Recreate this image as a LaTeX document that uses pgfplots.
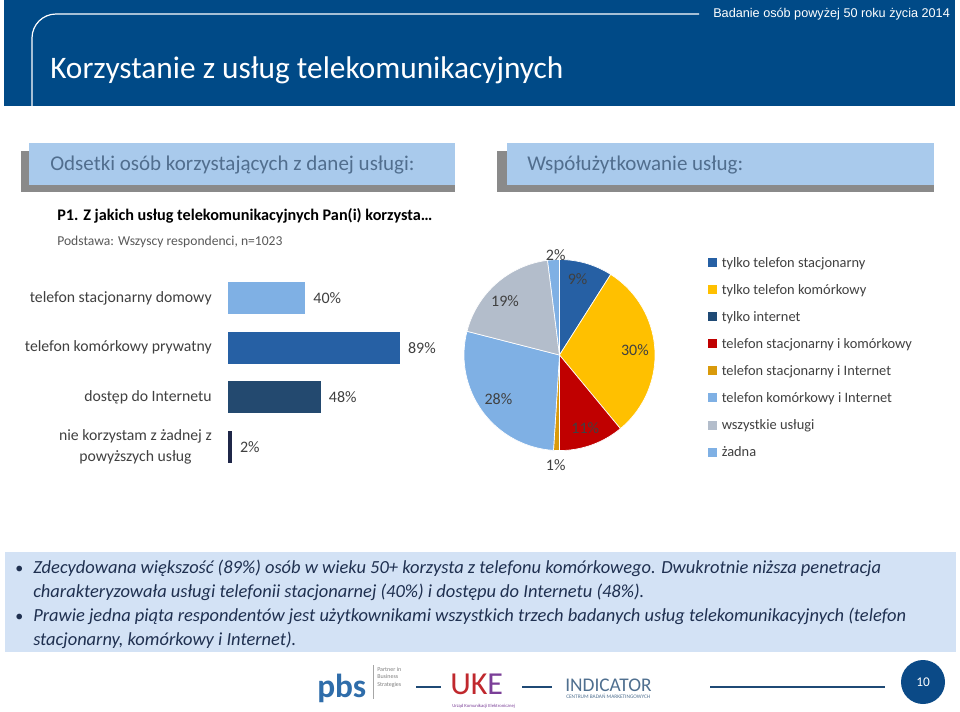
\documentclass[border=0pt]{standalone}
\usepackage{fontspec}
\setmainfont{Carlito}
\newfontfamily\arialfont{Liberation Sans}
\usepackage{pgfplots}
\pgfplotsset{compat=1.18}

\definecolor{hdr}{HTML}{004A87}
\definecolor{secbox}{HTML}{A9CAEC}
\definecolor{secshadow}{HTML}{8A8A8A}
\definecolor{sectext}{HTML}{516E8E}
\definecolor{lblue}{HTML}{7FB0E4}
\definecolor{mblue}{HTML}{2660A4}
\definecolor{dblue}{HTML}{23496F}
\definecolor{navy}{HTML}{1F2748}
\definecolor{inetblue}{HTML}{1F4A75}
\definecolor{yel}{HTML}{FFC000}
\definecolor{red1}{HTML}{C00000}
\definecolor{orng}{HTML}{D99A0B}
\definecolor{grayb}{HTML}{B3BDCB}
\definecolor{txtgray}{HTML}{404040}
\definecolor{subgray}{HTML}{595959}
\definecolor{notebg}{HTML}{D3E2F5}
\definecolor{notetext}{HTML}{1F3050}
\definecolor{pbsblue}{HTML}{2F6DAA}
\definecolor{ukered}{HTML}{C0282D}
\definecolor{ukepurple}{HTML}{7B3F98}
\definecolor{indgray}{HTML}{4F6F8F}
\definecolor{circ}{HTML}{0B4A87}

\newcommand{\slice}[3]{%
  \pgfmathsetmacro{\aS}{90-3.6*#2}%
  \pgfmathsetmacro{\aE}{90-3.6*(#2+#3)}%
  \edef\doslice{\noexpand\addplot[fill=#1, draw=white, line width=0.5pt, domain=\aE:\aS, samples=60, variable=\noexpand\t, forget plot] ({cos(\noexpand\t)},{sin(\noexpand\t)}) -- (axis cs:0,0) -- cycle;}%
  \doslice
}

\begin{document}
\begin{tikzpicture}[x=0.75pt,y=0.75pt]
\path[use as bounding box, fill=white] (0,0) rectangle (960,-711);

% header
\fill[hdr] (4,0) rectangle (955,-106);
\draw[white, line width=0.9pt] (32,-106) -- (32,-38) arc[start angle=180, end angle=90, radius=24] -- (699,-14);
\node[anchor=west, text=white, inner sep=0pt, font=\arialfont\fontsize{9.5}{11}\selectfont] at (713,-14) {Badanie osób powyżej 50 roku życia 2014};
\node[anchor=base west, text=white, inner sep=0pt, font=\fontsize{23.5}{28}\selectfont] at (50,-78) {Korzystanie z usług telekomunikacyjnych};

% section boxes
\fill[secshadow] (21,-151) rectangle (455,-192);
\fill[secbox] (29,-143) rectangle (455,-185);
\node[anchor=base west, text=sectext, inner sep=0pt, font=\fontsize{15.75}{18}\selectfont] at (50,-170) {Odsetki osób korzystających z danej usługi:};
\fill[secshadow] (497,-151) rectangle (934,-192);
\fill[secbox] (507,-143) rectangle (934,-185);
\node[anchor=base west, text=sectext, inner sep=0pt, font=\fontsize{15.75}{18}\selectfont] at (527,-170) {Współużytkowanie usług:};

\node[anchor=base west, text=black, inner sep=0pt, font=\bfseries\fontsize{12.15}{14}\selectfont] at (57,-220) {P1. Z jakich usług telekomunikacyjnych Pan(i) korzysta…};
\node[anchor=base west, text=subgray, inner sep=0pt, font=\fontsize{10.2}{12}\selectfont] at (57,-245.5) {Podstawa: Wszyscy respondenci, n=1023};

% bar chart (categories at y = 3,2,1,0 from top to bottom)
\begin{axis}[
  at={(171pt,-353.9pt)}, anchor=south west,
  scale only axis, width=144.75pt, height=149.1pt,
  xbar, bar width=24pt, bar shift=0pt,
  xmin=0, xmax=100, ymin=-0.5, ymax=3.5,
  axis line style={draw=none}, major tick length=0pt, tick style={draw=none},
  xtick=\empty, ytick={0,1,2,3},
  yticklabels={{nie korzystam z żadnej z\\powyższych usług}, dostęp do Internetu, telefon komórkowy prywatny, telefon stacjonarny domowy},
  yticklabel style={align=center, font=\fontsize{11.8}{15.5}\selectfont, text=txtgray, inner sep=0pt, xshift=-12pt},
  /pgf/number format/assume math mode=true,
  point meta=x,
  nodes near coords={\pgfmathprintnumber{\pgfplotspointmeta}\%},
  every node near coord/.append style={anchor=west, inner sep=0pt, xshift=6pt, font=\fontsize{12}{14}\selectfont, text=txtgray},
  clip=false,
]
\addplot[fill=lblue, draw=none] coordinates {(40,3)};
\addplot[fill=mblue, draw=none] coordinates {(89,2)};
\addplot[fill=dblue, draw=none] coordinates {(48,1)};
\addplot[fill=navy, draw=none] coordinates {(2,0)};
\end{axis}

% pie chart
\begin{axis}[
  at={(348pt,-337.9pt)}, anchor=south west,
  scale only axis, width=143.25pt, height=143.25pt,
  xmin=-1, xmax=1, ymin=-1, ymax=1,
  hide axis, clip=false,
  legend cell align=left,
  legend style={at={(axis cs:1.555,1.029)}, anchor=north west, draw=none, fill=none, inner sep=0pt,
    font=\fontsize{10.8}{12}\selectfont, text=txtgray, row sep=10.3pt,
    nodes={inner sep=0pt, text height=7.5pt, text depth=2.5pt}},
  legend image code/.code={\fill[#1] (0pt,-2pt) rectangle (6pt,4pt); \path (0pt,0pt) (9.75pt,0pt);},
]
\slice{mblue}{0}{9}
\slice{yel}{9}{30}
\slice{red1}{39}{11}
\slice{orng}{50}{1}
\slice{lblue}{51}{28}
\slice{grayb}{79}{19}
\slice{lblue}{98}{2}
\node[font=\fontsize{12}{14}\selectfont, text=txtgray] at (axis cs:-0.04,1.05) {2\%};
\node[font=\fontsize{12}{14}\selectfont, text=txtgray] at (axis cs:0.19,0.79) {9\%};
\node[font=\fontsize{12}{14}\selectfont, text=txtgray] at (axis cs:0.79,0.05) {30\%};
\node[font=\fontsize{12}{14}\selectfont, text=txtgray] at (axis cs:0.27,-0.77) {11\%};
\node[font=\fontsize{12}{14}\selectfont, text=txtgray] at (axis cs:-0.04,-1.15) {1\%};
\node[font=\fontsize{12}{14}\selectfont, text=txtgray] at (axis cs:-0.64,-0.46) {28\%};
\node[font=\fontsize{12}{14}\selectfont, text=txtgray] at (axis cs:-0.57,0.56) {19\%};
\addlegendimage{mblue}\addlegendentry{tylko telefon stacjonarny}
\addlegendimage{yel}\addlegendentry{tylko telefon komórkowy}
\addlegendimage{inetblue}\addlegendentry{tylko internet}
\addlegendimage{red1}\addlegendentry{telefon stacjonarny i komórkowy}
\addlegendimage{orng}\addlegendentry{telefon stacjonarny i Internet}
\addlegendimage{lblue}\addlegendentry{telefon komórkowy i Internet}
\addlegendimage{grayb}\addlegendentry{wszystkie usługi}
\addlegendimage{lblue}\addlegendentry{żadna}
\end{axis}

% notes
\fill[notebg] (5,-552) rectangle (956,-652);
\begin{scope}[every node/.style={anchor=base west, inner sep=0pt, text=notetext, font=\itshape\fontsize{13.85}{16}\selectfont}]
\node[font=\fontsize{12}{15}\selectfont] at (15,-573) {•};
\node at (33,-573) {Zdecydowana większość (89\%) osób w wieku 50+ korzysta z telefonu komórkowego. Dwukrotnie niższa penetracja};
\node at (33,-597) {charakteryzowała usługi telefonii stacjonarnej (40\%) i dostępu do Internetu (48\%).};
\node[font=\fontsize{12}{15}\selectfont] at (15,-621) {•};
\node at (33,-621) {Prawie jedna piąta respondentów jest użytkownikami wszystkich trzech badanych usług telekomunikacyjnych (telefon};
\node at (33,-645) {stacjonarny, komórkowy i Internet).};
\end{scope}

% footer
\node[anchor=base west, inner sep=0pt, text=pbsblue, font=\bfseries\fontsize{25}{25}\selectfont] at (317,-697) {pbs};
\draw[gray!70, line width=0.4pt] (373,-665) -- (373,-699);
\node[anchor=north west, inner sep=0pt, align=left, text=gray, font=\fontsize{4.5}{5.5}\selectfont] at (377,-667) {Partner in\\Business\\Strategies};
\draw[inetblue, line width=1pt] (416,-687) -- (441,-687);
\node[anchor=base west, inner sep=0pt, font=\fontsize{24}{24}\selectfont] at (450,-694) {\textcolor{ukered}{U}\textcolor{ukered}{K}\textcolor{ukepurple}{E}};
\node[anchor=north west, inner sep=0pt, text=ukepurple, font=\fontsize{3.5}{4}\selectfont] at (452,-704) {Urząd Komunikacji Elektronicznej};
\draw[inetblue, line width=1pt] (522,-687) -- (552,-687);
\node[anchor=base west, inner sep=0pt, text=indgray, font=\fontsize{14.5}{15}\selectfont] at (565,-691) {INDICATOR};
\node[anchor=north west, inner sep=0pt, text=indgray, font=\fontsize{4}{5}\selectfont] at (566,-694) {CENTRUM BADAŃ MARKETINGOWYCH};
\draw[inetblue, line width=1pt] (710,-687) -- (885,-687);
\fill[circ] (923,-682) circle[radius=22];
\node[text=white, font=\fontsize{10}{12}\selectfont] at (923,-682) {10};
\end{tikzpicture}
\end{document}
